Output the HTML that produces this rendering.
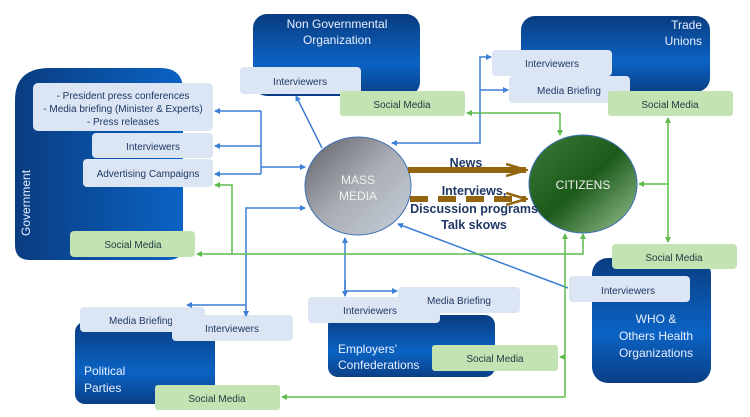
<!DOCTYPE html>
<html><head><meta charset="utf-8"><style>
html,body{margin:0;padding:0;background:#fff;}
svg{display:block;font-family:"Liberation Sans",sans-serif;}
.lb{fill:#dbe5f4;}
.gb{fill:#c3e3b3;}
.t{font-size:10px;fill:#1f3864;text-anchor:middle;}
.tg{font-size:10px;fill:#1d3a40;text-anchor:middle;}
.w{font-size:12px;fill:#e8f0ff;}
.bl{stroke:#3b7fd6;stroke-width:1.5;fill:none;}
.gr{stroke:#5cbb4a;stroke-width:1.5;fill:none;}
</style></head><body>
<svg width="750" height="417" viewBox="0 0 750 417">
<defs>
<linearGradient id="nv" x1="0" y1="0" x2="0" y2="1"><stop offset="0" stop-color="#0a3c80"/><stop offset="0.6" stop-color="#0b63c4"/><stop offset="1" stop-color="#0a3f86"/></linearGradient>
<linearGradient id="nvh" x1="0" y1="0" x2="1" y2="0"><stop offset="0" stop-color="#0a3c80"/><stop offset="1" stop-color="#0b63c4"/></linearGradient>
<linearGradient id="gm" x1="0" y1="0" x2="1" y2="1"><stop offset="0" stop-color="#5e6268"/><stop offset="0.5" stop-color="#a9adb3"/><stop offset="1" stop-color="#c8d0dc"/></linearGradient>
<linearGradient id="gc" x1="0" y1="0" x2="1" y2="1"><stop offset="0" stop-color="#3d7a3a"/><stop offset="0.5" stop-color="#1c5a1a"/><stop offset="1" stop-color="#9cc495"/></linearGradient>
<marker id="ab" markerUnits="userSpaceOnUse" markerWidth="6" markerHeight="6" refX="5" refY="3" orient="auto"><path d="M0,0L6,3L0,6z" fill="#3b7fd6"/></marker>
<marker id="ag" markerUnits="userSpaceOnUse" markerWidth="6" markerHeight="6" refX="5" refY="3" orient="auto"><path d="M0,0L6,3L0,6z" fill="#5cbb4a"/></marker>
<marker id="ar" markerUnits="userSpaceOnUse" markerWidth="22" markerHeight="14" refX="20" refY="7" orient="auto"><path d="M0,1L20,7L0,13" fill="none" stroke="#94650f" stroke-width="2.5"/></marker>
</defs>

<path d="M15,100 Q15,68 50,68 L160,68 Q183,68 183,90 L183,245 Q183,260 168,260 L30,260 Q15,260 15,245z" fill="url(#nvh)"/>
<rect x="253" y="14" width="167" height="82" rx="14" fill="url(#nv)"/>
<rect x="521" y="16" width="189" height="76" rx="14" fill="url(#nv)"/>
<rect x="75" y="322" width="140" height="82" rx="10" fill="url(#nv)"/>
<rect x="328" y="315" width="167" height="62" rx="10" fill="url(#nv)"/>
<rect x="592" y="258" width="119" height="125" rx="16" fill="url(#nv)"/>

<text class="w" transform="translate(30,236) rotate(-90)">Government</text>
<text class="w" x="337" y="28" text-anchor="middle">Non Governmental</text>
<text class="w" x="337" y="44" text-anchor="middle">Organization</text>
<text class="w" x="702" y="29" text-anchor="end">Trade</text>
<text class="w" x="702" y="45" text-anchor="end">Unions</text>
<text class="w" x="84" y="375">Political</text>
<text class="w" x="84" y="392">Parties</text>
<text class="w" x="338" y="353">Employers’</text>
<text class="w" x="338" y="369">Confederations</text>
<text class="w" x="656" y="323" text-anchor="middle">WHO &amp;</text>
<text class="w" x="656" y="340" text-anchor="middle">Others Health</text>
<text class="w" x="656" y="357" text-anchor="middle">Organizations</text>

<rect class="lb" x="33" y="83" width="180" height="48" rx="5"/>
<text class="t" x="123" y="99">- President press conferences</text>
<text class="t" x="123" y="112">- Media briefing (Minister &amp; Experts)</text>
<text class="t" x="123" y="125">- Press releases</text>
<rect class="lb" x="92" y="133" width="121" height="25" rx="4"/>
<text class="t" x="153" y="150">Interviewers</text>
<rect class="lb" x="83" y="159" width="130" height="28" rx="4"/>
<text class="t" x="148" y="177">Advertising Campaigns</text>
<rect class="gb" x="70" y="231" width="125" height="26" rx="4"/>
<text class="tg" x="133" y="248">Social Media</text>

<rect class="lb" x="240" y="67" width="121" height="27" rx="4"/>
<text class="t" x="300" y="85">Interviewers</text>
<rect class="gb" x="340" y="91" width="125" height="25" rx="3"/>
<text class="tg" x="402" y="108">Social Media</text>

<rect class="lb" x="492" y="50" width="120" height="26" rx="4"/>
<text class="t" x="552" y="67">Interviewers</text>
<rect class="lb" x="509" y="76" width="121" height="27" rx="4"/>
<text class="t" x="569" y="94">Media Briefing</text>
<rect class="gb" x="608" y="91" width="125" height="25" rx="3"/>
<text class="tg" x="670" y="108">Social Media</text>

<rect class="lb" x="80" y="307" width="125" height="25" rx="4"/>
<text class="t" x="141" y="324">Media Briefing</text>
<rect class="lb" x="172" y="315" width="121" height="26" rx="4"/>
<text class="t" x="232" y="332">Interviewers</text>
<rect class="gb" x="155" y="385" width="125" height="25" rx="3"/>
<text class="tg" x="217" y="402">Social Media</text>

<rect class="lb" x="308" y="297" width="132" height="26" rx="4"/>
<text class="t" x="370" y="314">Interviewers</text>
<rect class="lb" x="398" y="287" width="122" height="26" rx="4"/>
<text class="t" x="459" y="304">Media Briefing</text>
<rect class="gb" x="432" y="345" width="126" height="26" rx="3"/>
<text class="tg" x="495" y="362">Social Media</text>

<rect class="gb" x="612" y="244" width="125" height="25" rx="4"/>
<text class="tg" x="674" y="261">Social Media</text>
<rect class="lb" x="569" y="276" width="121" height="26" rx="4"/>
<text class="t" x="628" y="294">Interviewers</text>

<path class="bl" d="M261,111 L261,174" />
<path class="bl" d="M261,111 L215,111" marker-end="url(#ab)"/>
<path class="bl" d="M261,146 L215,146" marker-end="url(#ab)"/>
<path class="bl" d="M261,174 L215,174" marker-end="url(#ab)"/>
<path class="bl" d="M261,167 L305,167" marker-end="url(#ab)"/>
<path class="bl" d="M246,300 L246,208 L305,208" marker-end="url(#ab)"/>
<path class="bl" d="M246,305 L187,305" marker-end="url(#ab)"/>
<path class="bl" d="M246,300 L246,316" marker-end="url(#ab)"/>
<path class="bl" d="M322,148 L296,96" marker-end="url(#ab)"/>
<path class="bl" d="M480,90 L480,143 L392,143" marker-end="url(#ab)"/>
<path class="bl" d="M480,90 L480,57 L491,57" marker-end="url(#ab)"/>
<path class="bl" d="M480,90 L508,90" marker-end="url(#ab)"/>
<path class="bl" d="M345,290 L345,238" marker-end="url(#ab)"/>
<path class="bl" d="M345,280 L345,296" marker-end="url(#ab)"/>
<path class="bl" d="M345,291 L397,291" marker-end="url(#ab)"/>
<path class="bl" d="M568,288 L398,224" marker-end="url(#ab)"/>

<path class="gr" d="M560,113 L467,113" marker-end="url(#ag)"/>
<path class="gr" d="M560,113 L560,135" marker-end="url(#ag)"/>
<path class="gr" d="M668,184 L639,184" marker-end="url(#ag)"/>
<path class="gr" d="M668,184 L668,118" marker-end="url(#ag)"/>
<path class="gr" d="M668,184 L668,242" marker-end="url(#ag)"/>
<path class="gr" d="M232,254 L583,254 L583,234" marker-end="url(#ag)"/>
<path class="gr" d="M232,254 L197,254" marker-end="url(#ag)"/>
<path class="gr" d="M232,254 L232,185 L215,185" marker-end="url(#ag)"/>
<path class="gr" d="M565,397 L565,234" marker-end="url(#ag)"/>
<path class="gr" d="M565,397 L282,397" marker-end="url(#ag)"/>
<path class="gr" d="M565,357 L560,357" marker-end="url(#ag)"/>

<ellipse cx="358" cy="186" rx="53" ry="49" fill="url(#gm)" stroke="#3b6fb5" stroke-width="1"/>
<text x="358" y="184" text-anchor="middle" font-size="12" fill="#f0f0f0">MASS</text>
<text x="358" y="200" text-anchor="middle" font-size="12" fill="#f0f0f0">MEDIA</text>
<ellipse cx="583" cy="184" rx="54" ry="49" fill="url(#gc)" stroke="#3b6fb5" stroke-width="1"/>
<text x="583" y="189" text-anchor="middle" font-size="12" fill="#f0f0f0">CITIZENS</text>

<path d="M408,170 L526,170" stroke="#94650f" stroke-width="6" fill="none" marker-end="url(#ar)"/>
<path d="M410,199 L526,199" stroke="#94650f" stroke-width="6" stroke-dasharray="18,10" fill="none" marker-end="url(#ar)"/>
<g font-weight="bold" font-size="12.5" fill="#1f3864" text-anchor="middle">
<text x="466" y="167">News</text>
<text x="474" y="195">Interviews,</text>
<text x="474" y="213">Discussion programs</text>
<text x="474" y="229">Talk skows</text>
</g>
</svg>
</body></html>
